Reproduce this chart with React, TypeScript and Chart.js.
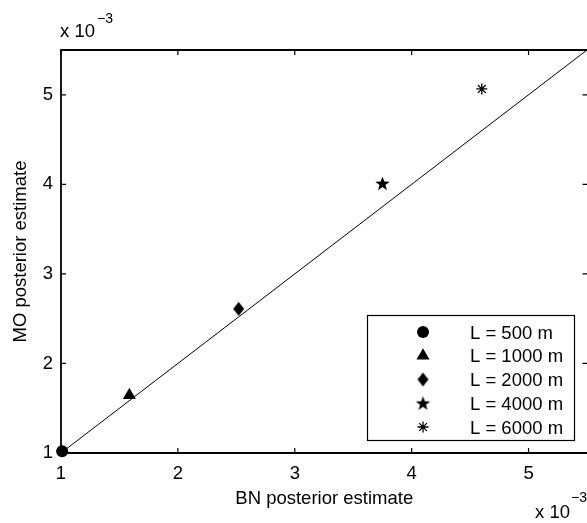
import React, { useEffect, useRef } from "react";
import { Chart, registerables } from "chart.js";

Chart.register(...registerables);

// ---- data ----
const seriesLabels = ["L = 500 m", "L = 1000 m", "L = 2000 m", "L = 4000 m", "L = 6000 m"];
const bnEstimate = [1.01, 1.585, 2.52, 3.75, 4.6];
const moEstimate = [1.02, 1.645, 2.61, 4.01, 5.065];
const refLineX = [1, 5.5];
const refLineY = [1, 5.5];
const xTicks = [1, 2, 3, 4, 5];
const yTicks = [1, 2, 3, 4, 5];
const axisMin = 1;
const axisMax = 5.5;
const xTitle = "BN posterior estimate";
const yTitle = "MO posterior estimate";

const FONT = '"Liberation Sans", Arial, Helvetica, sans-serif';
const FS = 18.5;

function makeDiamond(): HTMLCanvasElement {
  const c = document.createElement("canvas");
  c.width = 13;
  c.height = 16;
  const ctx = c.getContext("2d")!;
  ctx.fillStyle = "#000";
  ctx.beginPath();
  ctx.moveTo(6.5, 1);
  ctx.lineTo(12, 8);
  ctx.lineTo(6.5, 15);
  ctx.lineTo(1, 8);
  ctx.closePath();
  ctx.fill();
  return c;
}

function makePentagram(): HTMLCanvasElement {
  const c = document.createElement("canvas");
  c.width = 17;
  c.height = 15;
  const ctx = c.getContext("2d")!;
  ctx.fillStyle = "#000";
  ctx.beginPath();
  const cx = 8.5, cy = 8, R = 7.6, r = 3.1;
  for (let i = 0; i < 10; i++) {
    const ang = -Math.PI / 2 + (i * Math.PI) / 5;
    const rad = i % 2 === 0 ? R : r;
    const px = cx + rad * Math.cos(ang);
    const py = cy + rad * Math.sin(ang);
    if (i === 0) ctx.moveTo(px, py);
    else ctx.lineTo(px, py);
  }
  ctx.closePath();
  ctx.fill();
  return c;
}

function drawMarker(ctx: CanvasRenderingContext2D, kind: number, x: number, y: number, imgs: any) {
  ctx.save();
  ctx.fillStyle = "#000";
  ctx.strokeStyle = "#000";
  if (kind === 0) {
    ctx.beginPath();
    ctx.arc(x, y, 6, 0, Math.PI * 2);
    ctx.fill();
  } else if (kind === 1) {
    const r = 7.5;
    ctx.beginPath();
    ctx.moveTo(x, y - r);
    ctx.lineTo(x + r * Math.sin(Math.PI / 3), y + r / 2);
    ctx.lineTo(x - r * Math.sin(Math.PI / 3), y + r / 2);
    ctx.closePath();
    ctx.fill();
  } else if (kind === 2) {
    const im = imgs.diamond;
    ctx.drawImage(im, x - im.width / 2, y - im.height / 2);
  } else if (kind === 3) {
    const im = imgs.star;
    ctx.drawImage(im, x - im.width / 2, y - im.height / 2);
  } else {
    const r = 5.5;
    const d = r * Math.SQRT1_2;
    ctx.lineWidth = 1.3;
    ctx.beginPath();
    ctx.moveTo(x - r, y);
    ctx.lineTo(x + r, y);
    ctx.moveTo(x, y - r);
    ctx.lineTo(x, y + r);
    ctx.moveTo(x - d, y - d);
    ctx.lineTo(x + d, y + d);
    ctx.moveTo(x - d, y + d);
    ctx.lineTo(x + d, y - d);
    ctx.stroke();
  }
  ctx.restore();
}

export default function App() {
  const ref = useRef<HTMLCanvasElement | null>(null);

  useEffect(() => {
    document.body.style.margin = "0";
    const canvas = ref.current;
    if (!canvas) return;
    const imgs = { diamond: makeDiamond(), star: makePentagram() };
    const styles: any[] = ["circle", "triangle", imgs.diamond, imgs.star, "star"];
    const radii = [6, 7.5, 7, 7, 5.5];

    const framePlugin = {
      id: "matlabFrame",
      afterDraw(chart: any) {
        const ctx: CanvasRenderingContext2D = chart.ctx;
        const xs = chart.scales.x;
        const ys = chart.scales.y;
        const left = xs.getPixelForValue(axisMin);
        const right = xs.getPixelForValue(axisMax) + 1.5;
        const top = ys.getPixelForValue(axisMax);
        const bottom = ys.getPixelForValue(axisMin);
        ctx.save();
        // box
        ctx.strokeStyle = "#000";
        ctx.lineWidth = 1.8;
        ctx.beginPath();
        ctx.moveTo(left, top);
        ctx.lineTo(right, top);
        ctx.lineTo(right, bottom);
        ctx.lineTo(left, bottom);
        ctx.closePath();
        ctx.stroke();
        // ticks (inward, all sides)
        ctx.lineWidth = 1.2;
        const tl = 5;
        ctx.beginPath();
        xTicks.forEach((v) => {
          const px = xs.getPixelForValue(v);
          ctx.moveTo(px, bottom);
          ctx.lineTo(px, bottom - tl);
          ctx.moveTo(px, top);
          ctx.lineTo(px, top + tl);
        });
        yTicks.forEach((v) => {
          const py = ys.getPixelForValue(v);
          ctx.moveTo(left, py);
          ctx.lineTo(left + tl, py);
          ctx.moveTo(right - 1, py);
          ctx.lineTo(right - 1 - tl, py);
        });
        ctx.stroke();

        // titles
        ctx.fillStyle = "#000";
        ctx.font = `${FS}px ${FONT}`;
        ctx.textAlign = "center";
        ctx.textBaseline = "alphabetic";
        ctx.fillText(xTitle, (left + right - 1) / 2, 504);
        ctx.save();
        ctx.translate(26, (top + bottom) / 2);
        ctx.rotate(-Math.PI / 2);
        ctx.fillText(yTitle, 0, 0);
        ctx.restore();

        // exponent labels
        ctx.textAlign = "left";
        ctx.font = `${FS}px ${FONT}`;
        ctx.fillText("x 10", 60, 37);
        ctx.fillText("x 10", 535, 518);
        ctx.font = `14px ${FONT}`;
        ctx.fillText("\u22123", 97, 23);
        ctx.fillText("\u22123", 571, 502);

        // legend
        const lx = 367.5, ly = 315.5, lw = 207, lh = 125;
        ctx.fillStyle = "#fff";
        ctx.fillRect(lx, ly, lw, lh);
        ctx.strokeStyle = "#000";
        ctx.lineWidth = 1.2;
        ctx.strokeRect(lx, ly, lw, lh);
        ctx.font = `${FS}px ${FONT}`;
        seriesLabels.forEach((lab, i) => {
          const ry = 332 + i * 23.75;
          drawMarker(ctx, i, 423, ry, imgs);
          ctx.fillStyle = "#000";
          ctx.textAlign = "left";
          ctx.fillText(lab, 470, ry + 6.5);
        });
        ctx.restore();
      },
    };

    const datasets: any[] = seriesLabels.map((lab, i) => ({
      label: lab,
      data: [{ x: bnEstimate[i], y: moEstimate[i] }],
      pointStyle: styles[i],
      pointRadius: radii[i],
      pointHoverRadius: radii[i],
      backgroundColor: "#000",
      borderColor: "#000",
      borderWidth: i === 4 ? 1.3 : 0,
      showLine: false,
      clip: false,
    }));
    datasets.push({
      type: "line",
      label: "y = x",
      data: refLineX.map((x, i) => ({ x, y: refLineY[i] })),
      borderColor: "#000",
      borderWidth: 1,
      pointRadius: 0,
      showLine: true,
      fill: false,
      clip: false,
    });

    const tickFont = { family: FONT, size: FS };
    const chart = new Chart(canvas, {
      type: "scatter",
      data: { datasets },
      options: {
        animation: false,
        responsive: false,
        events: [],
        layout: { autoPadding: false, padding: { top: 50, right: 0, bottom: 0, left: 0 } },
        plugins: { legend: { display: false }, tooltip: { enabled: false } },
        scales: {
          x: {
            type: "linear",
            position: "bottom",
            min: axisMin,
            max: axisMax,
            grid: { display: false, drawTicks: false },
            border: { display: false },
            ticks: {
              stepSize: 1,
              includeBounds: false,
              color: "#000",
              font: tickFont,
              padding: 10,
              maxRotation: 0,
              autoSkip: false,
            },
            afterFit(s: any) {
              s.height = 70;
              s.paddingLeft = 0;
              s.paddingRight = 0;
            },
          },
          y: {
            type: "linear",
            position: "left",
            min: axisMin,
            max: axisMax,
            grid: { display: false, drawTicks: false },
            border: { display: false },
            ticks: {
              stepSize: 1,
              includeBounds: false,
              color: "#000",
              font: tickFont,
              padding: 8,
              autoSkip: false,
            },
            afterFit(s: any) {
              s.width = 61;
              s.paddingTop = 0;
              s.paddingBottom = 0;
            },
          },
        },
      } as any,
      plugins: [framePlugin],
    });
    return () => chart.destroy();
  }, []);

  return (
    <div style={{ width: 587, height: 523, background: "#fff" }}>
      <canvas ref={ref} width={587} height={523} style={{ display: "block" }} />
    </div>
  );
}
